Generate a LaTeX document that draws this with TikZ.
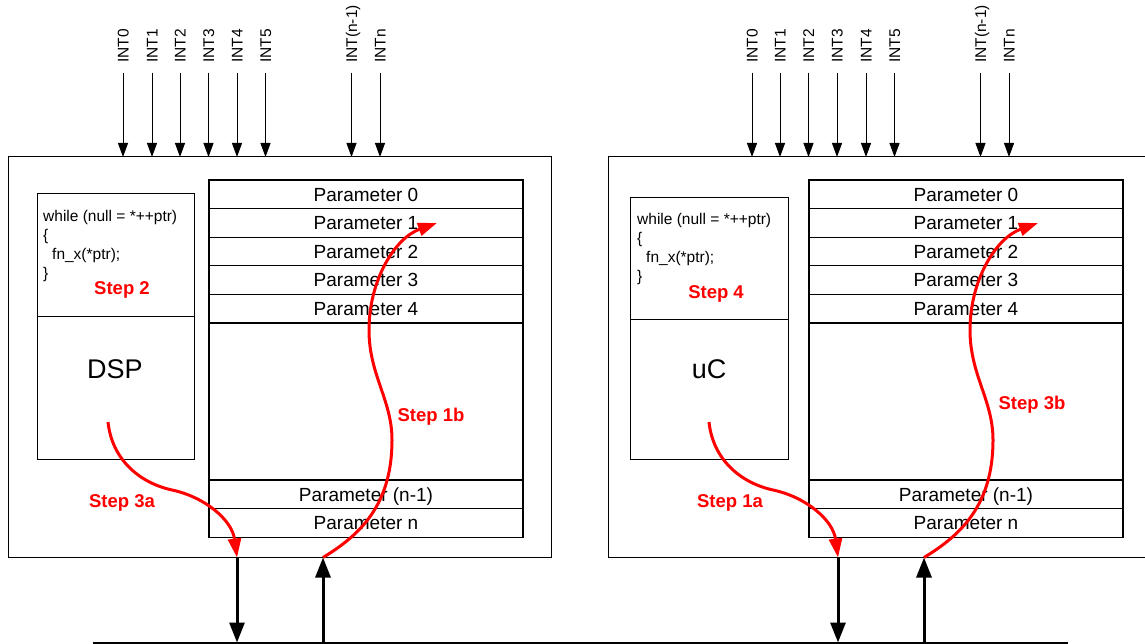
\documentclass[tikz,border=0pt]{standalone}
\usepackage{fontspec}
\setmainfont{Liberation Sans}
\usetikzlibrary{arrows.meta}
\definecolor{stepred}{RGB}{255,0,0}
\begin{document}
\begin{tikzpicture}[x=1pt,y=-1pt,
  frame/.style={draw=black, line width=1pt, inner sep=0pt, outer sep=0pt, anchor=north west},
  prow/.style={draw=black, line width=1.1pt, inner sep=0pt, outer sep=0pt, anchor=north,
    minimum width=314pt, minimum height=28.6pt,
    font=\fontsize{19}{22}\selectfont, text height=13.6pt, text depth=0pt},
  codetxt/.style={anchor=north west, inner sep=0pt, align=left,
    font=\fontsize{15.5}{19}\selectfont},
  steplab/.style={inner sep=0pt, text=stepred, font=\fontsize{18.5}{20}\selectfont\bfseries,
    text height=13.2pt, text depth=0pt},
  chiplab/.style={inner sep=0pt, font=\fontsize{27}{30}\selectfont, text height=19.3pt, text depth=0pt},
  intlab/.style={rotate=90, anchor=west, inner sep=0pt,
    font=\fontsize{15.5}{17}\selectfont, text height=11.1pt, text depth=0pt},
  intarr/.style={draw=black, line width=1pt, -{Triangle[length=14pt, width=10pt]}},
  busarr/.style={draw=black, line width=3pt, -{Triangle[length=20pt, width=15pt]}},
  redarr/.style={draw=stepred, line width=3pt, -{Triangle[length=19pt, width=13pt]}},
]
\useasboundingbox (0,0) rectangle (1145,644);
\clip (0,0) rectangle (1145,644);

% shared bus along the bottom edge
\coordinate (busW) at (93,642.5);
\coordinate (busE) at (1068,642.5);
\draw[line width=2pt] (busW) -- (busE);

% ---------------- left processor (DSP) ----------------
\node[frame, minimum width=543pt, minimum height=400.5pt] (Lbox) at (8,157) {};

\foreach \t [count=\i from 0] in {Parameter 0,Parameter 1,Parameter 2,Parameter 3,Parameter 4}
  \node[prow] (Lp\i) at (366,{180+28.6*\i}) {\t};
\node[prow, minimum height=157pt] (Lgap) at (366,323) {};
\node[prow] (Lpm) at (366,480) {Parameter (n-1)};
\node[prow] (Lpn) at (366,508.6) {Parameter n};

\node[frame, minimum width=157pt, minimum height=122pt] (Lcode) at (37,194) {};
\node[frame, minimum width=157pt, minimum height=143pt] (Lcpu) at (37,316) {};
\node[codetxt] (Lsrc) at (43,210.5) {while (null = *++ptr)\\\{\\\hspace*{9pt}fn\_x(*ptr);\\\}};
\node[steplab] (Ls2) at (122,288) {Step 2};
\node[chiplab] (Lchip) at (115,369) {DSP};

\foreach \x/\t [count=\i] in {123/INT0,152/INT1,180/INT2,208.5/INT3,237/INT4,265.5/INT5,351.5/INT(n-1),380/INTn}{
  \node[intlab] (Li\i) at (\x,63) {\t};
  \draw[intarr] ([yshift=-10pt]Li\i.west) -- (Li\i.west |- Lbox.north);
}

\coordinate (Ldn) at (237,557.5);
\coordinate (Lup) at (323,557.5);
\draw[busarr] (Ldn) -- (Ldn |- busW);
\draw[busarr] (Lup |- busW) -- (Lup);

\coordinate (Lfrom) at (108,422);
\coordinate (Lto) at (437,223);
\draw[redarr] (Lfrom) .. controls (112,460) and (140,483) .. (172,490)
  .. controls (205,497) and (232,520) .. (Ldn);
\draw[redarr] (Lup) .. controls (360,535) and (392,505) .. (392,440)
  .. controls (392,400) and (369,375) .. (369,330)
  .. controls (369,280) and (395,238) .. (Lto);
\node[steplab] (Ls3a) at (122,501) {Step 3a};
\node[steplab] (Ls1b) at (431,415) {Step 1b};

% ---------------- right processor (uC) ----------------
\node[frame, minimum width=543pt, minimum height=400.5pt] (Rbox) at (608,157) {};

\foreach \t [count=\i from 0] in {Parameter 0,Parameter 1,Parameter 2,Parameter 3,Parameter 4}
  \node[prow] (Rp\i) at (966,{180+28.6*\i}) {\t};
\node[prow, minimum height=157pt] (Rgap) at (966,323) {};
\node[prow] (Rpm) at (966,480) {Parameter (n-1)};
\node[prow] (Rpn) at (966,508.6) {Parameter n};

\node[frame, minimum width=158pt, minimum height=121pt] (Rcode) at (630,198) {};
\node[frame, minimum width=158pt, minimum height=140pt] (Rcpu) at (630,319) {};
\node[codetxt] (Rsrc) at (637,213.5) {while (null = *++ptr)\\\{\\\hspace*{9pt}fn\_x(*ptr);\\\}};
\node[steplab] (Rs4) at (716,292) {Step 4};
\node[chiplab] (Rchip) at (709,369) {uC};

\foreach \x/\t [count=\i] in {752/INT0,780/INT1,808.5/INT2,837/INT3,866/INT4,894.5/INT5,980.5/INT(n-1),1009/INTn}{
  \node[intlab] (Ri\i) at (\x,63) {\t};
  \draw[intarr] ([yshift=-10pt]Ri\i.west) -- (Ri\i.west |- Rbox.north);
}

\coordinate (Rdn) at (838,557.5);
\coordinate (Rup) at (924,557.5);
\draw[busarr] (Rdn) -- (Rdn |- busW);
\draw[busarr] (Rup |- busW) -- (Rup);

\coordinate (Rfrom) at (709,422);
\coordinate (Rto) at (1038,223);
\draw[redarr] (Rfrom) .. controls (713,460) and (741,483) .. (773,490)
  .. controls (806,497) and (833,520) .. (Rdn);
\draw[redarr] (Rup) .. controls (961,535) and (993,505) .. (993,440)
  .. controls (993,400) and (970,375) .. (970,330)
  .. controls (970,280) and (996,238) .. (Rto);
\node[steplab] (Rs1a) at (730,501) {Step 1a};
\node[steplab] (Rs3b) at (1032,402.5) {Step 3b};
\end{tikzpicture}
\end{document}
